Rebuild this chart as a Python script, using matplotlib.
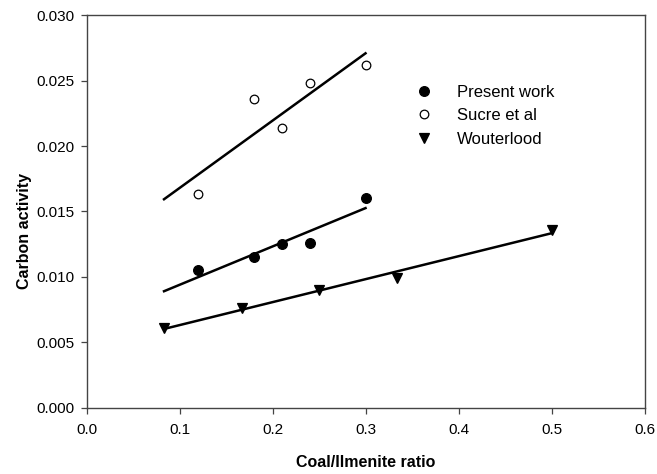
import numpy as np
import matplotlib
matplotlib.use("Agg")
import matplotlib.pyplot as plt

plt.rcParams['font.family'] = ['Liberation Sans', 'DejaVu Sans']

# coal/ilmenite ratio vs carbon activity
present_x = [0.12, 0.18, 0.21, 0.24, 0.30]
present_y = [0.0105, 0.0115, 0.0125, 0.0126, 0.0160]

sucre_x = [0.12, 0.18, 0.21, 0.24, 0.30]
sucre_y = [0.0163, 0.0236, 0.0214, 0.0248, 0.0262]

wout_x = [1/12, 1/6, 0.25, 1/3, 0.5]
wout_y = [0.0061, 0.0076, 0.0090, 0.0099, 0.0136]

fit_start = 1/12  # regression lines all start here

fig = plt.figure(figsize=(6.57, 4.74), dpi=100)
ax = fig.add_axes([0.1317, 0.1399, 0.8493, 0.8278])

series = [
    (present_x, present_y, 'o', 'black', 7, 'Present work'),
    (sucre_x, sucre_y, 'o', 'white', 6.2, 'Sucre et al'),
    (wout_x, wout_y, 'v', 'black', 7.5, 'Wouterlood'),
]

for xs, ys, mk, fc, ms, lab in series:
    ax.plot(xs, ys, linestyle='none', marker=mk, markersize=ms,
            markerfacecolor=fc, markeredgecolor='black', markeredgewidth=0.9,
            label=lab, zorder=3)
    k, b = np.polyfit(xs, ys, 1)
    xx = np.array([fit_start, max(xs)])
    ax.plot(xx, k * xx + b, color='black', linewidth=1.8, zorder=2)

ax.set_xlim(0, 0.6)
ax.set_ylim(0, 0.030)
ax.set_xticks(np.arange(0, 0.61, 0.1))
ax.set_yticks(np.arange(0, 0.0301, 0.005))
ax.xaxis.set_major_formatter(matplotlib.ticker.FormatStrFormatter('%.1f'))
ax.yaxis.set_major_formatter(matplotlib.ticker.FormatStrFormatter('%.3f'))

for s in ax.spines.values():
    s.set_color('#444444')
    s.set_linewidth(1.0)
ax.tick_params(direction='out', length=4, width=0.9, color='#444444',
               labelsize=11, top=False, right=False)
ax.tick_params(axis='x', pad=7)
ax.tick_params(axis='y', pad=5)

ax.set_xlabel('Coal/Ilmenite ratio', fontsize=11.5, fontweight='bold')
ax.set_ylabel('Carbon activity', fontsize=11.5, fontweight='bold')
ax.xaxis.set_label_coords(0.5, -0.12)
ax.yaxis.set_label_coords(-0.098, 0.45)

fig.legend(loc='upper left', bbox_to_anchor=(401/657, 1 - 70/474),
           frameon=False, fontsize=12, handlelength=1.0, handletextpad=1.45,
           labelspacing=0.5, borderpad=0.4)

fig.savefig('out.png', dpi=100)
